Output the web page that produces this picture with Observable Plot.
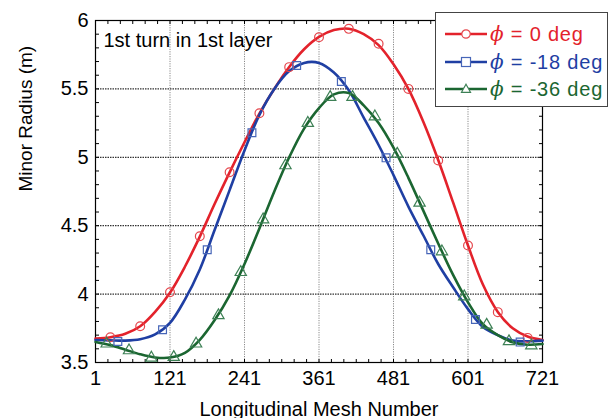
<!DOCTYPE html>
<html>
<head>
<meta charset="utf-8">
<script src="https://cdn.jsdelivr.net/npm/d3@7"></script>
<script src="https://cdn.jsdelivr.net/npm/@observablehq/plot@0.6"></script>
<style>
  html, body { margin: 0; padding: 0; background: #fff; }
  #wrap { position: relative; width: 610px; height: 418px; font-family: "Liberation Sans", Arial, sans-serif; }
  #legend { position: absolute; left: 435px; top: 12px; width: 171px; height: 93px; border: 1.5px solid #444; background: #fff; }
  .row { position: absolute; left: 0; height: 26px; display: flex; align-items: center; }
  .row svg { margin-left: 9px; }
  .row span { font-size: 20px; margin-left: 3px; letter-spacing: 0.8px; white-space: nowrap; }
  .row i { font-family: "DejaVu Serif", serif; }
</style>
</head>
<body>
<div id="wrap"></div>
<script>
// ---- data ----
const lineMesh = [1,25,49,73,97,121,145,169,193,217,241,265,289,313,337,361,385,409,433,457,481,505,529,553,577,601,625,649,673,697,721];
const redLine   = [3.675,3.685,3.71,3.765,3.87,4.01,4.20,4.42,4.66,4.89,5.11,5.32,5.50,5.66,5.79,5.88,5.93,5.94,5.90,5.82,5.68,5.50,5.26,4.98,4.67,4.355,4.07,3.87,3.75,3.69,3.665];
const blueLine  = [3.665,3.662,3.66,3.67,3.705,3.79,3.96,4.18,4.47,4.76,5.05,5.31,5.50,5.63,5.69,5.69,5.62,5.49,5.29,5.09,4.87,4.64,4.43,4.22,4.05,3.89,3.76,3.70,3.66,3.655,3.66];
const greenLine = [3.65,3.627,3.594,3.56,3.537,3.536,3.57,3.665,3.81,3.99,4.22,4.48,4.75,5.00,5.21,5.36,5.46,5.47,5.38,5.25,5.07,4.85,4.61,4.37,4.14,3.94,3.78,3.70,3.648,3.63,3.635];

const redMarkMesh = [25,73,121,169,217,265,313,361,409,457,505,553,601,649,697];
const redMarks    = [3.685,3.765,4.014,4.423,4.891,5.322,5.659,5.878,5.939,5.83,5.5,4.977,4.355,3.868,3.68];
const blueMarkMesh = [37,109,181,253,325,397,469,541,613,685];
const blueMarks    = [3.654,3.739,4.324,5.179,5.671,5.554,4.996,4.324,3.814,3.649];
const greenMarkMesh = [19,55,91,127,163,199,235,271,307,343,379,415,451,487,523,559,595,631,667,703];
const greenMarks    = [3.637,3.588,3.534,3.539,3.637,3.844,4.16,4.545,4.94,5.25,5.44,5.44,5.298,5.025,4.667,4.311,3.982,3.775,3.654,3.624];

const xTicks = [1,121,241,361,481,601,721];
const yTicks = [3.5,4,4.5,5,5.5,6];
const xGrid = [121,241,361,481,601];
const yGrid = [4,4.5,5,5.5];
const seriesNames = ["0","-18","-36"];
const seriesColors = ["#e3222b","#1f3fa3","#1b6631"];
const markColors = ["#e5474d","#4766b8","#3d8055"];
const titleText = "1st turn in 1st layer";
const xLabel = "Longitudinal Mesh Number";
const yLabel = "Minor Radius (m)";

// ---- build ----
const toRows = (xs, ys) => xs.map((x, i) => ({x, y: ys[i]}));
const lines = [redLine, blueLine, greenLine].map(v => toRows(lineMesh, v));
const marks = [toRows(redMarkMesh, redMarks), toRows(blueMarkMesh, blueMarks), toRows(greenMarkMesh, greenMarks)];
const symbols = ["circle","square","triangle"];
const xMinor = d3.range(1, 722, 20);
const yMinor = d3.range(35, 61, 1).map(d => d / 10);

const chart = Plot.plot({
  width: 610,
  height: 418,
  marginLeft: 95,
  marginRight: 68,
  marginTop: 20,
  marginBottom: 56,
  style: {fontFamily: "Liberation Sans, Arial, sans-serif", background: "#fff", color: "#000"},
  x: {domain: [1, 721]},
  y: {domain: [3.5, 6]},
  marks: [
    Plot.gridX(xGrid, {stroke: "#8a8a8a", strokeOpacity: 1, strokeDasharray: "1.2,1.2"}),
    Plot.gridY(yGrid, {stroke: "#333", strokeOpacity: 1, strokeDasharray: "1.5,1", strokeWidth: 1.2}),
    Plot.axisX({anchor: "bottom", ticks: xMinor, tickSize: -3, tickFormat: () => "", label: null}),
    Plot.axisX({anchor: "top", ticks: xMinor, tickSize: -3, tickFormat: () => "", label: null}),
    Plot.axisY({anchor: "left", ticks: yMinor, tickSize: -4, tickFormat: () => "", label: null}),
    Plot.axisY({anchor: "right", ticks: yMinor, tickSize: -4, tickFormat: () => "", label: null}),
    Plot.axisX({anchor: "bottom", ticks: xTicks, tickSize: 0, tickPadding: 8, tickFormat: d => String(d),
      fontSize: 20, label: null, letterSpacing: "0.8px"}),
    Plot.axisY({anchor: "left", ticks: yTicks, tickSize: 0, tickPadding: 7, tickFormat: d => String(d),
      fontSize: 20, label: null, letterSpacing: "0.8px"}),
    Plot.text([xLabel], {frameAnchor: "bottom", dy: 53, lineAnchor: "bottom", fontSize: 20, letterSpacing: "0.9px", fill: "#000"}),
    Plot.text([yLabel], {frameAnchor: "left", dx: -70, rotate: -90, lineAnchor: "middle", fontSize: 19, fill: "#000"}),
    Plot.frame({stroke: "#000", strokeWidth: 1.2}),
    ...lines.map((d, i) => Plot.line(d, {x: "x", y: "y", stroke: seriesColors[i], strokeWidth: 2.6, curve: "catmull-rom"})),
    ...marks.map((d, i) => Plot.dot(d, {x: "x", y: "y", symbol: symbols[i], r: i === 2 ? 4.2 : 4.4, stroke: markColors[i], strokeWidth: 1.2, fill: "none"})),
    Plot.text([titleText], {frameAnchor: "top-left", dx: 8, dy: 12, lineAnchor: "top", textAnchor: "start", fontSize: 20, letterSpacing: "0.5px", fill: "#000"})
  ]
});
const wrap = document.getElementById("wrap");
wrap.appendChild(chart);

// legend
const legend = document.createElement("div");
legend.id = "legend";
const symSvg = [
  c => `<circle cx="21" cy="8" r="4.2" fill="white" stroke="${c}" stroke-width="1.2"/>`,
  c => `<rect x="16.5" y="3.5" width="9" height="9" fill="white" stroke="${c}" stroke-width="1.2"/>`,
  c => `<path d="M21,3.3 L25.5,11.3 L16.5,11.3 Z" fill="white" stroke="${c}" stroke-width="1.2"/>`
];
seriesNames.forEach((n, i) => {
  const row = document.createElement("div");
  row.className = "row";
  row.style.top = (8 + i * 27.5) + "px";
  row.innerHTML = `<svg width="42" height="16"><line x1="0" y1="8" x2="42" y2="8" stroke="${seriesColors[i]}" stroke-width="2.6"/>${symSvg[i](markColors[i])}</svg>` +
    `<span style="color:${seriesColors[i]}"><i>ϕ</i> = ${n} deg</span>`;
  legend.appendChild(row);
});
wrap.appendChild(legend);
</script>
</body>
</html>
